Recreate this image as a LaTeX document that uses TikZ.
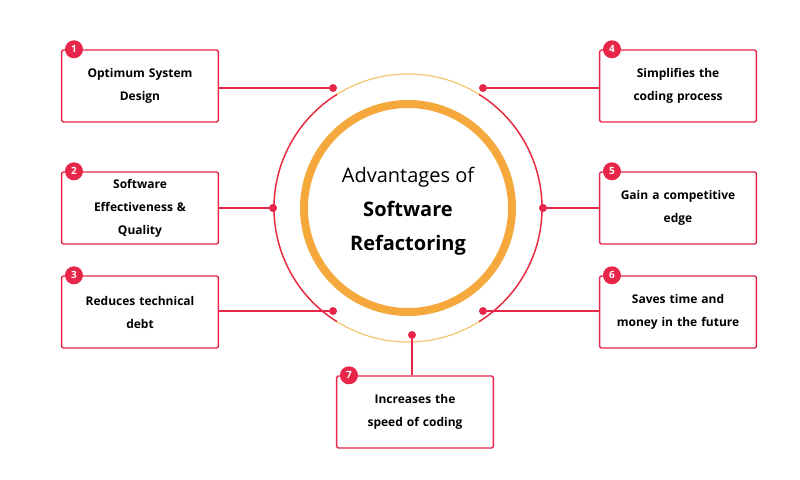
\documentclass[tikz,border=0pt]{standalone}
\usepackage{fontspec}
\setmainfont{Open Sans}
\begin{document}
\begin{tikzpicture}[x=1pt,y=-1pt,
 box/.style={draw=rd,line width=1.4pt,rounded corners=2pt,minimum width=156pt,minimum height=72pt,align=center,font=\fontsize{12}{23}\selectfont\bfseries,text width=150pt},
 badge/.style={circle,fill=rd,text=white,font=\fontsize{10}{10}\selectfont\bfseries,inner sep=0pt,minimum size=18pt},
 dot/.style={circle,fill=rd,inner sep=0pt,minimum size=8pt},
 con/.style={draw=rd,line width=1.2pt}]
\definecolor{rd}{HTML}{E8264A}
\definecolor{org}{HTML}{F5A93C}
\definecolor{lorg}{HTML}{F7C56E}
\useasboundingbox (0,0) rectangle (800,479);
\coordinate (c) at (408,208);
% outer ring
\draw[lorg,line width=1.2pt] (c) circle (134);
\draw[rd,line width=1.4pt] ([shift={(122:134)}]c) arc[start angle=122,end angle=238,radius=134];
\draw[rd,line width=1.4pt] ([shift={(-58:134)}]c) arc[start angle=-58,end angle=58,radius=134];
\draw[org,line width=8pt] (c) circle (104);
\node[font=\fontsize{20}{34}\selectfont,align=center] (t) at (408,211) {Advantages of\\\textbf{Software}\\\textbf{Refactoring}};
% dots
\node[dot] (d1) at (333,88) {};
\node[dot] (d2) at (273,208) {};
\node[dot] (d3) at (333,311) {};
\node[dot] (d4) at (483,88) {};
\node[dot] (d5) at (543,208) {};
\node[dot] (d6) at (483,311) {};
\node[dot] (d7) at (412,335) {};
% boxes
\node[box] (b1) at (140,86) {Optimum System\\Design};
\node[box] (b2) at (140,208) {Software\\Effectiveness \&\\Quality};
\node[box] (b3) at (140,312) {Reduces technical\\debt};
\node[box] (b4) at (678,86) {Simplifies the\\coding process};
\node[box] (b5) at (678,208) {Gain a competitive\\edge};
\node[box] (b6) at (678,312) {Saves time and\\money in the future};
\node[box] (b7) at (415,412) {Increases the\\speed of coding};
\foreach \b/\n in {b1/1,b2/2,b3/3,b4/4,b5/5,b6/6,b7/7}
  \node[badge] at ([shift={(13,0)}]\b.north west) {\n};
\draw[con] (b1.east |- d1) -- (d1);
\draw[con] (b2.east |- d2) -- (d2);
\draw[con] (b3.east |- d3) -- (d3);
\draw[con] (b4.west |- d4) -- (d4);
\draw[con] (b5.west |- d5) -- (d5);
\draw[con] (b6.west |- d6) -- (d6);
\draw[con] (d7) -- (d7 |- b7.north);
\end{tikzpicture}
\end{document}
